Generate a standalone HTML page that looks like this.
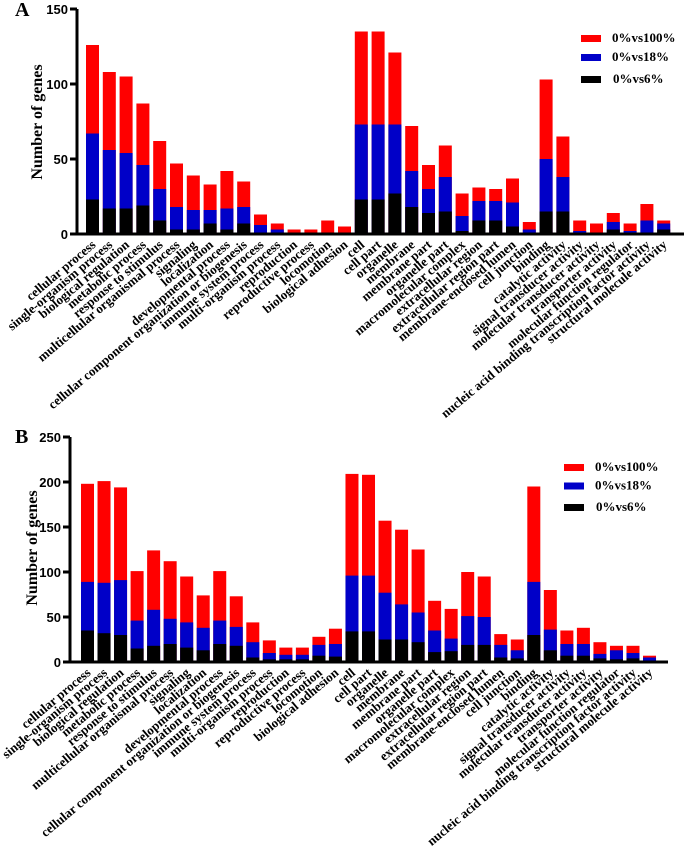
<!DOCTYPE html>
<html><head><meta charset="utf-8"><style>
html,body{margin:0;padding:0;background:#fff;width:686px;height:860px;overflow:hidden}
svg text{font-family:"Liberation Serif",serif;font-weight:bold}
.tick{font-family:"Liberation Sans",sans-serif;font-weight:bold;font-size:13px}
</style></head><body>
<svg id="chart" width="686" height="860" xmlns="http://www.w3.org/2000/svg"></svg>
<script>
const categories=["cellular process","single-organism process","biological regulation","metabolic process","response to stimulus","multicellular organismal process","signaling","localization","developmental process","cellular component organization or biogenesis","immune system process","multi-organism process","reproduction","reproductive process","locomotion","biological adhesion","cell","cell part","organelle","membrane","membrane part","organelle part","macromolecular complex","extracellular region","extracellular region part","membrane-enclosed lumen","cell junction","binding","catalytic activity","signal transducer activity","molecular transducer activity","transporter activity","molecular function regulator","nucleic acid binding transcription factor activity","structural molecule activity"];
const seriesNames=["0%vs100%","0%vs18%","0%vs6%"];
const aRed=[126,108,105,87,62,47,39,33,42,35,13,7,3,3,9,5,135,135,121,72,46,59,27,31,30,37,8,103,65,9,7,14,7,20,9];
const aBlue=[67,56,54,46,30,18,16,16,17,18,6,3,0,0,0,0,73,73,73,42,30,38,12,22,22,21,3,50,38,2,0,8,2,9,7];
const aBlack=[23,17,17,19,9,3,3,7,3,7,1,0,0,0,0,0,23,23,27,18,14,15,2,9,9,5,0,15,15,0,0,3,0,1,3];
const bRed=[198,201,194,101,124,112,95,74,101,73,44,24,16,16,28,37,209,208,157,147,125,68,59,100,95,31,25,195,80,35,38,22,18,18,7];
const bBlue=[89,88,91,46,58,48,44,38,46,39,22,10,8,8,19,20,96,96,77,64,55,35,26,51,50,19,13,89,36,20,20,9,13,10,5];
const bBlack=[35,32,30,15,18,20,16,13,20,18,5,3,3,3,7,6,34,34,25,25,22,11,12,19,19,5,4,30,13,7,7,4,3,4,1];
const aTicks=[0,50,100,150];
const bTicks=[0,50,100,150,200,250];
const colors=["#ff0000","#0000c8","#000000"];
const NS="http://www.w3.org/2000/svg";
const svg=document.getElementById('chart');
function mk(tag,attrs,parent){const e=document.createElementNS(NS,tag);for(const k in attrs)e.setAttribute(k,attrs[k]);(parent||svg).appendChild(e);return e;}
function panel(cfg){
  const g=mk('g',{});
  
  
  const y=v=>cfg.y0-(v-0)*(cfg.y0-cfg.yTop)/cfg.max;
  const x=i=>cfg.x0+i*cfg.pitch;
  const series=[cfg.red,cfg.blue,cfg.black];
  for(let s=0;s<3;s++){
    for(let i=0;i<categories.length;i++){
      const v=series[s][i]; if(v<=0)continue;
      const r=mk('rect',{x:x(i),y:y(v),width:cfg.bw,height:cfg.y0-y(v),fill:colors[s]},g);
      
      
    }
  }
  // axes
  const ya=mk('line',{x1:cfg.ax,y1:cfg.yTop,x2:cfg.ax,y2:cfg.y0+1.5,stroke:'#000','stroke-width':3},g);
  
  
  const xa=mk('line',{x1:cfg.ax-1.5,y1:cfg.y0,x2:cfg.xEnd,y2:cfg.y0,stroke:'#000','stroke-width':3},g);
  
  
  cfg.ticks.forEach(t=>{
    mk('line',{x1:cfg.ax-7,y1:y(t),x2:cfg.ax,y2:y(t),stroke:'#000','stroke-width':3},g);
    const tl=mk('text',{x:cfg.ax-9,y:y(t)+5,'text-anchor':'end',class:'tick'},g);
    tl.textContent=t;
    
    
  });
  categories.forEach((c,i)=>{
    const cx=x(i)+cfg.bw/2+4, cy=cfg.y0+12;
    const t=mk('text',{x:cx,y:cy,'text-anchor':'end','font-size':13,transform:`rotate(-40 ${cx} ${cy})`},g);
    t.textContent=c;
    
    
  });
  const tt=mk('text',{x:cfg.titleX,y:cfg.titleY,'text-anchor':'middle','font-size':16,transform:`rotate(-90 ${cfg.titleX} ${cfg.titleY})`},g);
  tt.textContent='Number of genes';
  
  
  const L=mk('text',{x:cfg.letterX,y:cfg.letterY,'font-size':20},g);
  L.textContent=cfg.letter;
  
  
  seriesNames.forEach((n,s)=>{
    const ly=cfg.legY+s*cfg.legDy[s];
    const sw=mk('rect',{x:cfg.legX,y:ly,width:20,height:7,fill:colors[s]},g);
    
    
    const lt=mk('text',{x:cfg.legX+31+(s==2?1:0),y:ly+7,'font-size':13},g);
    lt.textContent=n;
    
    
  });
}
panel({letter:'A',red:aRed,blue:aBlue,black:aBlack,ticks:aTicks,max:150,y0:234,yTop:9,ax:77,x0:86,pitch:16.8,bw:13,xEnd:684,titleX:42,titleY:122,letterX:15,letterY:16,legX:581,legY:35,legDy:[0,19,20.5]});
panel({letter:'B',red:bRed,blue:bBlue,black:bBlack,ticks:bTicks,max:250,y0:662,yTop:437,ax:70,x0:81,pitch:16.53,bw:13,xEnd:668,titleX:37,titleY:548,letterX:15,letterY:443,legX:564,legY:464,legDy:[0,18.5,20]});
</script>
</body></html>
